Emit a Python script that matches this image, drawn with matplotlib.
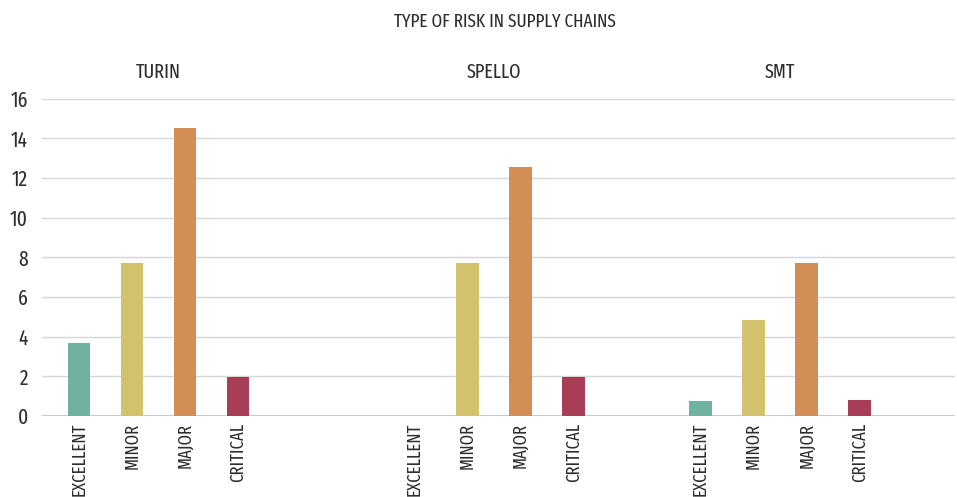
import numpy as np
import matplotlib
matplotlib.use("Agg")
import matplotlib.pyplot as plt

categories = ["EXCELLENT", "MINOR", "MAJOR", "CRITICAL"]
sites = ["TURIN", "SPELLO", "SMT"]
turin = [3.7, 7.7, 14.5, 1.95]
spello = [0.0, 7.7, 12.55, 1.95]
smt = [0.75, 4.85, 7.7, 0.8]
y_ticks = [0, 2, 4, 6, 8, 10, 12, 14, 16]
chart_title = "TYPE OF RISK IN SUPPLY CHAINS"

colors = ["#70b2a0", "#d2c26e", "#d38e55", "#a83e55"]
text_color = "#2e2e2e"

plt.rcParams["font.family"] = ["Fira Sans Extra Condensed", "Fira Sans Condensed",
                               "Roboto Condensed", "PT Sans Narrow", "DejaVu Sans"]
plt.rcParams["font.weight"] = "normal"

W, H = 957, 497
fig = plt.figure(figsize=(W / 100, H / 100), dpi=100)
ax = fig.add_axes([42 / W, 81 / H, 913 / W, 317.5 / H])

group_starts = [0.0, 6.33, 11.73]
site_texts = []
for start, site, values in zip(group_starts, sites, [turin, spello, smt]):
    xs = start + np.arange(len(categories))
    ax.bar(xs, values, width=0.43, color=colors, zorder=3)
    t = ax.annotate(site, xy=(xs.mean(), 1.0), xycoords=ax.get_xaxis_transform(),
                    xytext=(0, 26 * 0.72), textcoords="offset points",
                    ha="center", va="center", fontsize=12, color=text_color)
    site_texts.append(t)

all_x = np.concatenate([s + np.arange(len(categories)) for s in group_starts])
ax.set_xticks(all_x)
ax.set_xticklabels(categories * len(sites), rotation=90, va="top", ha="center",
                   fontsize=12, color=text_color)
ax.set_xlim(-0.70, 16.53)
ax.set_ylim(0, 16)
ax.set_yticks(y_ticks)
ax.set_yticklabels([str(t) for t in y_ticks], fontsize=12, color=text_color)
ax.tick_params(axis="both", length=0)
ax.tick_params(axis="y", pad=10)
ax.tick_params(axis="x", pad=5)
for s in ax.spines.values():
    s.set_visible(False)
ax.yaxis.grid(True, color="#d6d6d6", linewidth=1.0, zorder=0)
ax.axhline(0, color="#cacaca", linewidth=2.2, zorder=2)
ax.set_axisbelow(True)

title = fig.text(505 / W, 1 - 21.5 / H, chart_title, ha="center", va="center",
                 fontsize=11, color=text_color)

# Scale each text group so its rendered size suits the narrow layout
fig.canvas.draw()
renderer = fig.canvas.get_renderer()


def fit(texts, ref, target_px, use_height=False):
    bb = ref.get_window_extent(renderer)
    size = bb.height if use_height else bb.width
    new = ref.get_fontsize() * target_px / size
    for t in texts:
        t.set_fontsize(new)


xlabels = ax.get_xticklabels()
fit(xlabels, xlabels[0], 73, use_height=True)
fit(ax.get_yticklabels(), ax.get_yticklabels()[-1], 17.5)
fit(site_texts, site_texts[0], 45)
fit([title], title, 222)

fig.savefig("out.png", dpi=100)
